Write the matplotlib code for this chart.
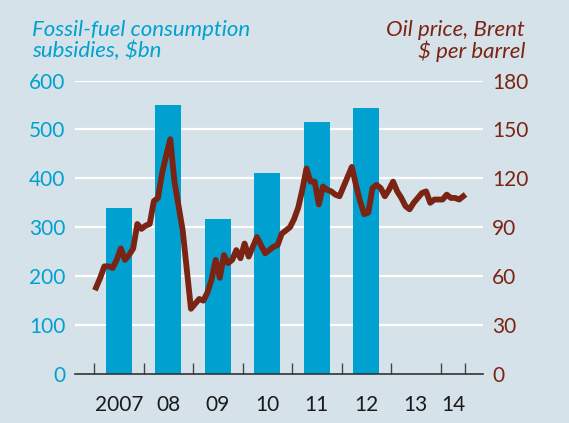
import numpy as np
import matplotlib
matplotlib.use("Agg")
import matplotlib.pyplot as plt

# fossil-fuel consumption subsidies, $bn (one bar per year)
sub_years = [2007, 2008, 2009, 2010, 2011, 2012]
subsidies = [340, 550, 316, 410, 515, 543]

# Brent oil price, $ per barrel, monthly Jan 2007 - Jun 2014
brent = [53, 59, 66, 66, 65, 70, 77, 70, 73, 77, 92, 89,
         91, 92, 106, 108, 123, 134, 144, 118, 103, 88, 64, 40,
         43, 46, 45, 50, 58, 70, 59, 73, 68, 70, 76, 71,
         80, 72, 78, 84, 79, 74, 76, 78, 79, 86, 88, 90,
         95, 102, 113, 126, 118, 118, 104, 115, 113, 112, 110, 109,
         115, 121, 127, 116, 106, 98, 99, 114, 116, 114, 109, 113,
         118, 112, 108, 103, 101, 105, 108, 111, 112, 105, 107, 107,
         107, 110, 108, 108, 107, 109]

tick_labels = ["2007", "08", "09", "10", "11", "12", "13", "14"]

bg = "#d6e2e9"
blue = "#00a1d0"
red = "#7b2413"

plt.rcParams['font.family'] = ['Lato', 'DejaVu Sans']

fig = plt.figure(figsize=(5.69, 4.23), dpi=100, facecolor=bg)
ax = fig.add_axes([75/569, 49/423, (482.6-75)/569, (374-80.5)/423])
ax.set_facecolor(bg)

ax.bar(np.array(sub_years) + 0.5, subsidies, width=0.525, color=blue, zorder=2)
ax.set_ylim(0, 600)
ax.set_xlim(2006.616, 2014.85)
ax.set_yticks(range(0, 601, 100))
for v in range(100, 601, 100):
    ax.axhline(v, color="white", lw=1.6, zorder=1)

for s in ["left", "right", "top"]:
    ax.spines[s].set_visible(False)
ax.spines["bottom"].set_color("#333333")
ax.spines["bottom"].set_linewidth(1.2)
ax.spines["bottom"].set_zorder(5)

ax.set_xticks(list(range(2007, 2015)) + [2014.5])
ax.set_xticklabels([])
ax.tick_params(axis="x", which="major", direction="in", length=8, width=1, color="#444444")
ax.set_xticks([y + 0.5 for y in range(2007, 2014)] + [2014.25], minor=True)
ax.set_xticklabels(tick_labels, minor=True)
ax.tick_params(axis="x", which="minor", length=0, pad=15, labelsize=15, labelcolor="#1a1a1a")
ax.tick_params(axis="y", length=0, pad=7, labelsize=15, labelcolor=blue)

ax2 = ax.twinx()
months = 2007 + (np.arange(len(brent)) + 0.5) / 12
ax2.plot(months, brent, color=red, lw=4.2, solid_joinstyle="round", zorder=3)
ax2.set_ylim(0, 180)
ax2.set_yticks(range(0, 181, 30))
ax2.tick_params(axis="y", length=0, pad=7, labelsize=15, labelcolor=red)
for s in ["left", "right", "top", "bottom"]:
    ax2.spines[s].set_visible(False)

fig.text(32/569, 1 - 20/423, "Fossil-fuel consumption\nsubsidies, $bn", ha="left", va="top",
         fontsize=16, style="italic", color=blue, linespacing=1.05)
fig.text(525/569, 1 - 20/423, "Oil price, Brent\n$ per barrel", ha="right", va="top",
         fontsize=16, style="italic", color=red, linespacing=1.05)

fig.savefig("out.png", dpi=100, facecolor=bg)
